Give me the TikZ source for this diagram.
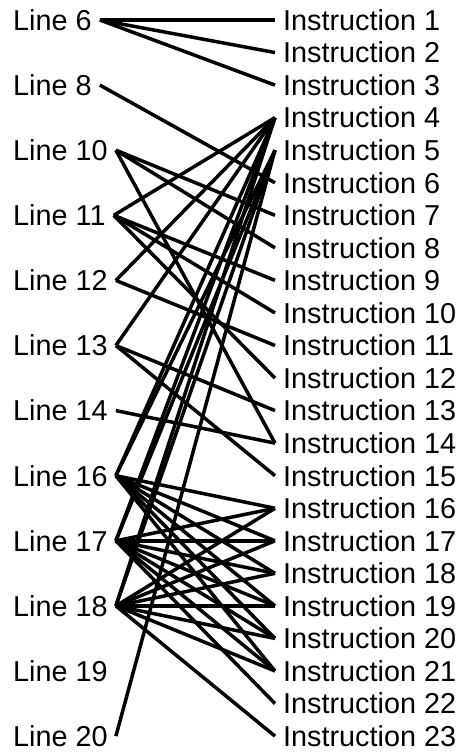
\documentclass[tikz,border=0pt]{standalone}
\usepackage{fontspec}
\setmainfont{Liberation Sans}
\begin{document}
\begin{tikzpicture}[x=1pt, y=-1pt,
    lbl/.style={anchor=west, font=\fontsize{28.8}{30}\selectfont, inner xsep=8pt, inner ysep=0pt},
    link/.style={line width=3.5pt}]
  \useasboundingbox (0,0) rectangle (462,753);
  % instructions on the right, source lines on the left
  \foreach \k in {1,...,23}
    \node[lbl] (i\k) at (275, {20+(\k-1)*32.55}) {Instruction \k};
  \foreach \n/\r in {6/1, 8/3, 10/5, 11/7, 12/9, 13/11, 14/13, 16/15, 17/17, 18/19, 19/21, 20/23}
    \node[lbl] (l\n) at (5, {20+(\r-1)*32.55}) {Line \n};
  % mapping
  \foreach \k in {1,2,3} \draw[link] (l6.east) -- (i\k.west);
  \draw[link] (l8.east) -- (i6.west);
  \foreach \k in {7,8,14} \draw[link] (l10.east) -- (i\k.west);
  \foreach \k in {4,9,10,12} \draw[link] (l11.east) -- (i\k.west);
  \foreach \k in {4,11} \draw[link] (l12.east) -- (i\k.west);
  \foreach \k in {4,13,15} \draw[link] (l13.east) -- (i\k.west);
  \draw[link] (l14.east) -- (i14.west);
  \foreach \k in {4,5,16,17,18,19,20,21} \draw[link] (l16.east) -- (i\k.west);
  \foreach \k in {4,5,16,17,18,19,20,21,22} \draw[link] (l17.east) -- (i\k.west);
  \foreach \k in {4,5,16,17,18,19,20,21,23} \draw[link] (l18.east) -- (i\k.west);
  \draw[link] (l20.east) -- (i5.west);
\end{tikzpicture}
\end{document}
